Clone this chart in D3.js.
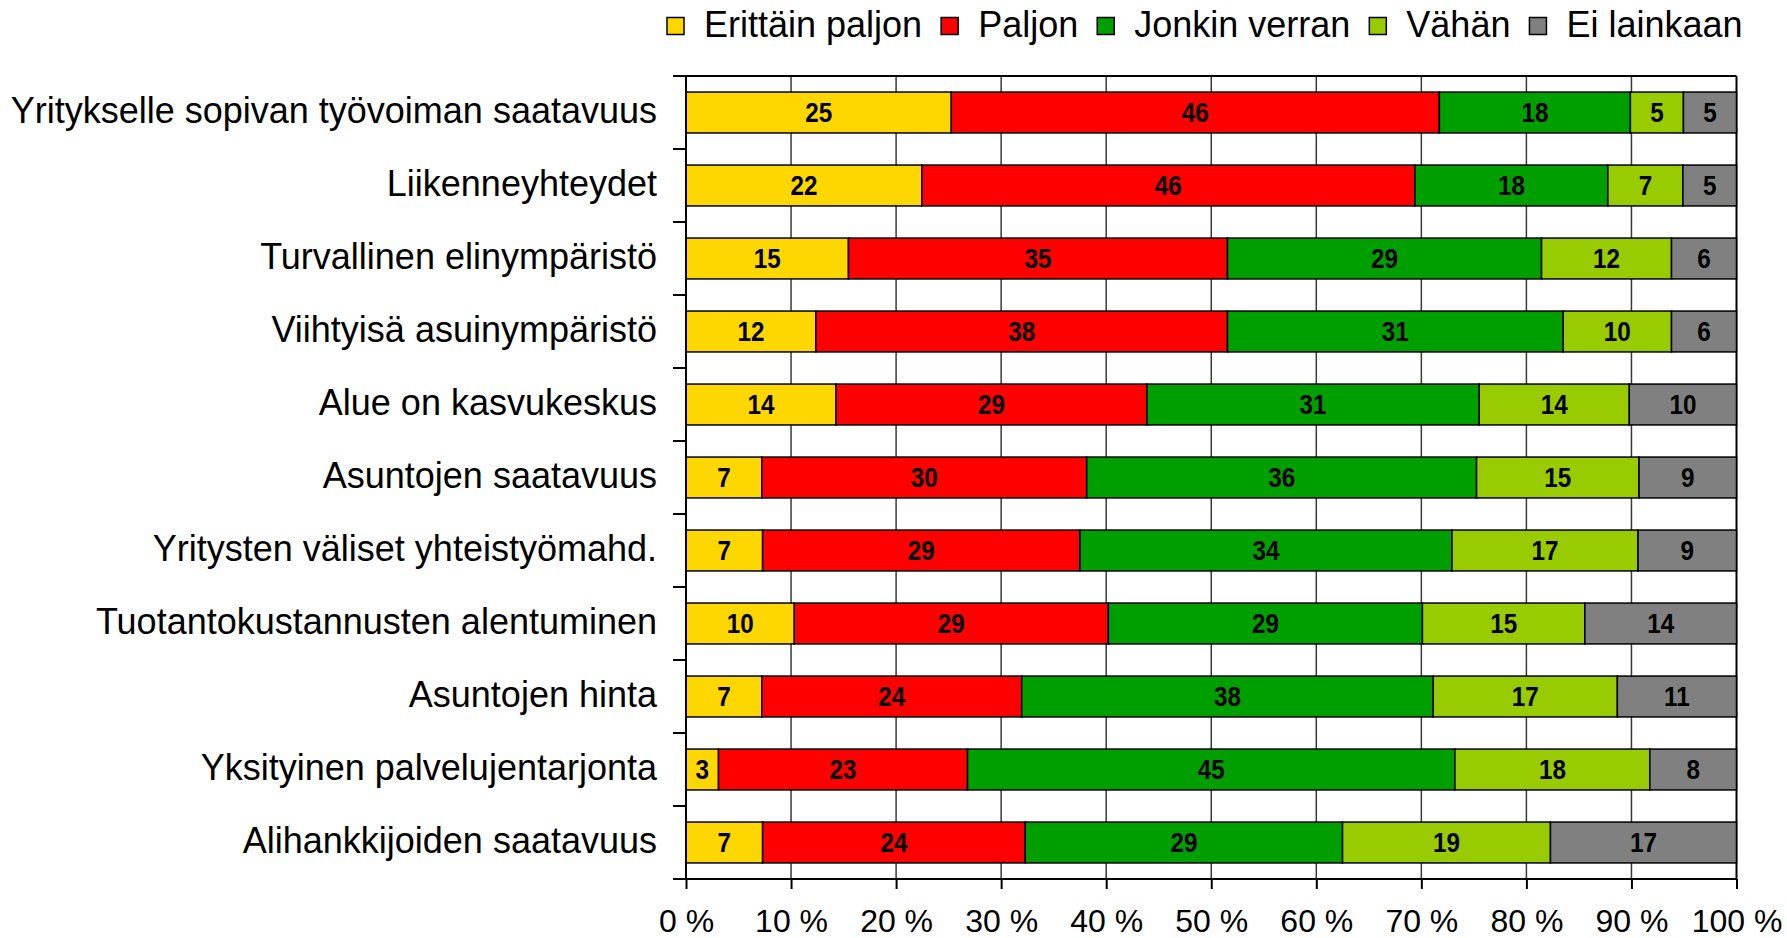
<!DOCTYPE html>
<html>
<head>
<meta charset="utf-8">
<script src="https://cdn.jsdelivr.net/npm/d3@7"></script>
<style>
  html, body { margin: 0; padding: 0; background: #fff; }
  svg { display: block; font-family: "Liberation Sans", Arial, sans-serif; }
</style>
</head>
<body>
<svg id="chart" width="1787" height="938"></svg>
<script>
// ---- Data ----
const categories = [
  "Yritykselle sopivan työvoiman saatavuus",
  "Liikenneyhteydet",
  "Turvallinen elinympäristö",
  "Viihtyisä asuinympäristö",
  "Alue on kasvukeskus",
  "Asuntojen saatavuus",
  "Yritysten väliset yhteistyömahd.",
  "Tuotantokustannusten alentuminen",
  "Asuntojen hinta",
  "Yksityinen palvelujentarjonta",
  "Alihankkijoiden saatavuus"
];
const seriesNames = ["Erittäin paljon", "Paljon", "Jonkin verran", "Vähän", "Ei lainkaan"];
const erittainPaljon = [25, 22, 15, 12, 14, 7, 7, 10, 7, 3, 7];
const paljon         = [46, 46, 35, 38, 29, 30, 29, 29, 24, 23, 24];
const jonkinVerran   = [18, 18, 29, 31, 31, 36, 34, 29, 38, 45, 29];
const vahan          = [5, 7, 12, 10, 14, 15, 17, 15, 17, 18, 19];
const eiLainkaan     = [5, 5, 6, 6, 10, 9, 9, 14, 11, 8, 17];
const seriesColors = ["#FFD700", "#FF0000", "#009F00", "#99CC00", "#808080"];
const xTickValues = [0, 10, 20, 30, 40, 50, 60, 70, 80, 90, 100];

// ---- Build table ----
const seriesValues = [erittainPaljon, paljon, jonkinVerran, vahan, eiLainkaan];
const rows = categories.map((c, i) => {
  const r = { category: c };
  seriesNames.forEach((s, j) => r[s] = seriesValues[j][i]);
  return r;
});
const stacked = d3.stack().keys(seriesNames).offset(d3.stackOffsetExpand)(rows);

// ---- Layout ----
const svg = d3.select("#chart");
const pLeft = 686, pRight = 1736.5, pTop = 76, pBottom = 879;
const x = d3.scaleLinear().domain([0, 1]).range([pLeft, pRight]);
const y = d3.scaleBand().domain(categories).range([pTop, pBottom]).paddingInner(0.44).paddingOuter(0.22);
const color = d3.scaleOrdinal().domain(seriesNames).range(seriesColors);

// gridlines
svg.append("g").selectAll("line")
  .data(xTickValues.filter(v => v > 0 && v < 100))
  .join("line")
  .attr("x1", d => x(d / 100)).attr("x2", d => x(d / 100))
  .attr("y1", pTop).attr("y2", pBottom)
  .attr("stroke", "#3a3a3a").attr("stroke-width", 1.5);

// frame top & right
svg.append("line").attr("x1", pLeft).attr("x2", pRight).attr("y1", pTop).attr("y2", pTop)
  .attr("stroke", "#000").attr("stroke-width", 2);
svg.append("line").attr("x1", pRight).attr("x2", pRight).attr("y1", pTop).attr("y2", pBottom)
  .attr("stroke", "#000").attr("stroke-width", 2);

// bars
const layers = svg.append("g").selectAll("g")
  .data(stacked).join("g")
  .attr("fill", d => color(d.key));
layers.selectAll("rect")
  .data(d => d.map(p => ({ p, key: d.key })))
  .join("rect")
  .attr("x", d => x(d.p[0]))
  .attr("width", d => x(d.p[1]) - x(d.p[0]))
  .attr("y", d => y(d.p.data.category))
  .attr("height", y.bandwidth())
  .attr("stroke", "#000").attr("stroke-width", 1.5);

// data labels
const labG = svg.append("g");
stacked.forEach(layer => {
  layer.forEach(p => {
    const cx = (x(p[0]) + x(p[1])) / 2;
    const cy = y(p.data.category) + y.bandwidth() / 2;
    labG.append("text")
      .attr("transform", `translate(${cx},${cy}) scale(0.9,1)`)
      .attr("text-anchor", "middle")
      .attr("dy", "0.36em")
      .attr("font-size", 27)
      .attr("font-weight", "bold")
      .attr("fill", "#000")
      .text(p.data[layer.key]);
  });
});

// left axis (labels)
const yAxis = svg.append("g")
  .attr("transform", `translate(${pLeft},0)`)
  .call(d3.axisLeft(y).tickSize(0).tickPadding(29));
yAxis.select(".domain").remove();
yAxis.selectAll("text").attr("font-size", 36).attr("fill", "#000").attr("dy", "0.3em")
  .style("font-family", '"Liberation Sans", Arial, sans-serif');

// left axis line and boundary ticks
svg.append("line").attr("x1", pLeft).attr("x2", pLeft).attr("y1", pTop).attr("y2", pBottom)
  .attr("stroke", "#000").attr("stroke-width", 2);
const boundaries = d3.range(categories.length + 1).map(i => pTop + i * y.step());
svg.append("g").selectAll("line").data(boundaries).join("line")
  .attr("x1", pLeft - 13).attr("x2", pLeft)
  .attr("y1", d => d).attr("y2", d => d)
  .attr("stroke", "#000").attr("stroke-width", 2);

// bottom axis
const xAxis = svg.append("g")
  .attr("transform", `translate(0,${pBottom})`)
  .call(d3.axisBottom(x).tickValues(xTickValues.map(v => v / 100))
    .tickSize(10).tickPadding(20)
    .tickFormat(d => Math.round(d * 100) + " %"));
xAxis.select(".domain").attr("stroke", "#000").attr("stroke-width", 2)
  .attr("d", `M${pLeft - 13},0H${pRight}`);
xAxis.selectAll(".tick line").attr("stroke", "#000").attr("stroke-width", 2);
xAxis.selectAll("text").attr("font-size", 32).attr("fill", "#000")
  .style("font-family", '"Liberation Sans", Arial, sans-serif');

// legend
const legend = svg.append("g");
let lx = 667;
seriesNames.forEach((s, i) => {
  legend.append("rect")
    .attr("x", lx).attr("y", 17.5).attr("width", 17).attr("height", 17)
    .attr("fill", seriesColors[i]).attr("stroke", "#000").attr("stroke-width", 1.5);
  const t = legend.append("text")
    .attr("x", lx + 37).attr("y", 37)
    .attr("font-size", 36).attr("fill", "#000")
    .text(s);
  lx = lx + 37 + t.node().getComputedTextLength() + 19;
});
</script>
</body>
</html>
